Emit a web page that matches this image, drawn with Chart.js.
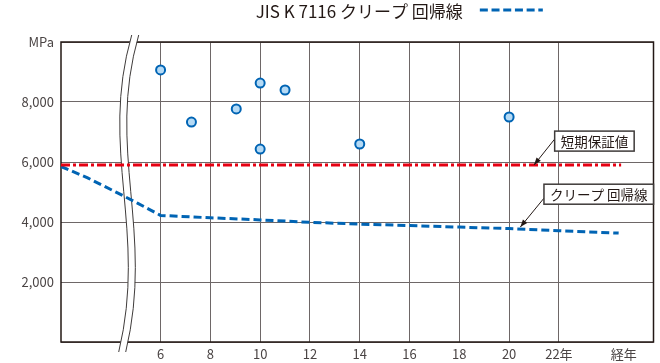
<!DOCTYPE html>
<html>
<head>
<meta charset="utf-8">
<script src="https://cdn.jsdelivr.net/npm/chart.js@4"></script>
<style>
  body { margin: 0; background: #fff; }
  #wrap { width: 660px; height: 363px; }
</style>
</head>
<body>
<div id="wrap"><canvas id="chart"></canvas></div>
<script>
const chartTitle = 'JIS K 7116 クリープ 回帰線';
const xTickValues = [6, 8, 10, 12, 14, 16, 18, 20, 22, 24.6];
const xTickLabels = ['6', '8', '10', '12', '14', '16', '18', '20', '22年', '経年'];
const yTickLabels = ['', '2,000', '4,000', '6,000', '8,000', 'MPa'];

// measured test results (years, MPa)
const testYears = [6, 7.24, 9.04, 10, 10, 11, 14, 20];
const testValues = [9070, 7330, 7770, 8630, 6430, 8400, 6600, 7500];

// creep regression line, left part sits before the axis break
const curveYears = [2, 3.07, 4.27, 5.07, 6, 8, 10, 12, 14, 16, 18, 20, 22, 24.4];
const curveValues = [5850, 5470, 4970, 4630, 4220, 4140, 4070, 3990, 3930, 3880, 3830, 3780, 3710, 3630];

// short term guaranteed value
const guaranteeYears = [2, 24.5];
const guaranteeValues = [5900, 5900];

const FONT = '"Noto Sans CJK JP", "Noto Sans", sans-serif';
const INK = '#231815';
const BLUE = '#0064b4';

// callout boxes: box top-left and arrow tip in data units
const callouts = [
    { text: '短期保証値', boxX: 21.83, boxY: 7030, tipX: 21.0, tipY: 5900, fromDy: 8 },
    { text: 'クリープ 回帰線', boxX: 21.4, boxY: 5260, tipX: 20.45, tipY: 3830, fromDy: 14 }
];

function wavePath(ctx, bx, top, bottom, dx) {
    const h = bottom - top;
    ctx.moveTo(bx + 4 + dx, top - 7);
    ctx.bezierCurveTo(bx - 29 + dx, top + h * 0.36, bx + 20 + dx, top + h * 0.63, bx - 9 + dx, bottom + 10);
}

const decor = {
    id: 'decor',
    beforeDatasetsDraw(chart) {
        const { ctx, chartArea: a, scales: { x } } = chart;
        ctx.save();
        ctx.strokeStyle = INK;
        ctx.lineWidth = 1.5;
        ctx.strokeRect(a.left, a.top, a.right - a.left, a.bottom - a.top);

        // axis break
        const bx = x.getPixelForValue(4.68);
        const h = a.bottom - a.top;
        ctx.beginPath();
        wavePath(ctx, bx, a.top, a.bottom, 0);
        ctx.lineTo(bx - 9 + 7, a.bottom + 10);
        ctx.bezierCurveTo(bx + 20 + 7, a.top + h * 0.63, bx - 29 + 7, a.top + h * 0.36, bx + 4 + 7, a.top - 7);
        ctx.closePath();
        ctx.fillStyle = '#fff';
        ctx.fill();
        ctx.strokeStyle = '#3e3a39';
        ctx.lineWidth = 1;
        [0, 7].forEach(dx => {
            ctx.beginPath();
            wavePath(ctx, bx, a.top, a.bottom, dx);
            ctx.stroke();
        });
        ctx.restore();
    },
    afterDraw(chart) {
        const { ctx, chartArea: a, scales: { x, y } } = chart;
        ctx.save();

        // title with dashed legend sample
        ctx.font = '17px ' + FONT;
        ctx.fillStyle = INK;
        ctx.textAlign = 'center';
        ctx.textBaseline = 'middle';
        const cx = (a.left + a.right) / 2 + 2;
        ctx.fillText(chartTitle, cx, 12);
        const tw = ctx.measureText(chartTitle).width;
        const lx = cx + tw / 2 + 17;
        ctx.strokeStyle = BLUE;
        ctx.lineWidth = 3;
        ctx.setLineDash([8, 3.7]);
        ctx.beginPath();
        ctx.moveTo(lx, 10);
        ctx.lineTo(lx + 63, 10);
        ctx.stroke();
        ctx.setLineDash([]);

        // callouts
        ctx.font = '13.5px ' + FONT;
        callouts.forEach(c => {
            const bx = x.getPixelForValue(c.boxX);
            const by = y.getPixelForValue(c.boxY);
            const w = ctx.measureText(c.text).width + 12;
            const hh = 20;
            const tx = x.getPixelForValue(c.tipX);
            const ty = y.getPixelForValue(c.tipY);
            const fx = bx;
            const fy = by + c.fromDy;

            ctx.strokeStyle = INK;
            ctx.lineWidth = 1;
            ctx.beginPath();
            ctx.moveTo(fx, fy);
            ctx.lineTo(tx, ty);
            ctx.stroke();
            const ang = Math.atan2(ty - fy, tx - fx);
            ctx.fillStyle = INK;
            ctx.beginPath();
            ctx.moveTo(tx, ty);
            ctx.lineTo(tx - 8 * Math.cos(ang - 0.35), ty - 8 * Math.sin(ang - 0.35));
            ctx.lineTo(tx - 8 * Math.cos(ang + 0.35), ty - 8 * Math.sin(ang + 0.35));
            ctx.closePath();
            ctx.fill();

            ctx.fillStyle = '#fff';
            ctx.fillRect(bx, by, w, hh);
            ctx.lineWidth = 1.5;
            ctx.strokeStyle = '#3e3a39';
            ctx.strokeRect(bx, by, w, hh);
            ctx.fillStyle = INK;
            ctx.textAlign = 'center';
            ctx.fillText(c.text, bx + w / 2, by + hh / 2 + 1);
        });
        ctx.restore();
    }
};

const ctx = document.getElementById('chart').getContext('2d');
new Chart(ctx, {
    type: 'scatter',
    data: {
        datasets: [{
            type: 'line',
            data: guaranteeYears.map((v, i) => ({ x: v, y: guaranteeValues[i] })),
            borderColor: '#e60012',
            borderWidth: 3,
            borderDash: [9, 3, 3, 3],
            pointRadius: 0,
            fill: false
        }, {
            type: 'line',
            data: curveYears.map((v, i) => ({ x: v, y: curveValues[i] })),
            borderColor: BLUE,
            borderWidth: 3,
            borderDash: [8, 4],
            pointRadius: 0,
            tension: 0,
            fill: false
        }, {
            data: testYears.map((v, i) => ({ x: v, y: testValues[i] })),
            backgroundColor: '#b5daf5',
            borderColor: BLUE,
            borderWidth: 2,
            pointRadius: 4.5
        }]
    },
    options: {
        responsive: true,
        maintainAspectRatio: false,
        animation: false,
        layout: { padding: { top: 42, right: 5, left: 0, bottom: 0 } },
        plugins: {
            legend: { display: false },
            tooltip: { enabled: false }
        },
        scales: {
            x: {
                type: 'linear',
                min: 2,
                max: 25.8,
                afterBuildTicks: scale => {
                    scale.ticks = xTickValues.map(value => ({ value }));
                },
                afterFit: scale => { scale.height = 21; },
                border: { display: false },
                grid: {
                    drawTicks: false,
                    color: c => (c.tick && c.tick.value > 23) ? 'rgba(0,0,0,0)' : '#6e6767'
                },
                ticks: {
                    autoSkip: false,
                    maxRotation: 0,
                    padding: 4,
                    color: '#4a4444',
                    font: { family: FONT, size: 13 },
                    callback: (value, index) => xTickLabels[index]
                }
            },
            y: {
                min: 0,
                max: 10000,
                afterFit: scale => { scale.width = 61; },
                border: { display: false },
                grid: { drawTicks: false, color: '#6e6767' },
                ticks: {
                    stepSize: 2000,
                    padding: 7,
                    color: '#4a4444',
                    font: { family: FONT, size: 13 },
                    callback: value => yTickLabels[value / 2000]
                }
            }
        }
    },
    plugins: [decor]
});
</script>
</body>
</html>
